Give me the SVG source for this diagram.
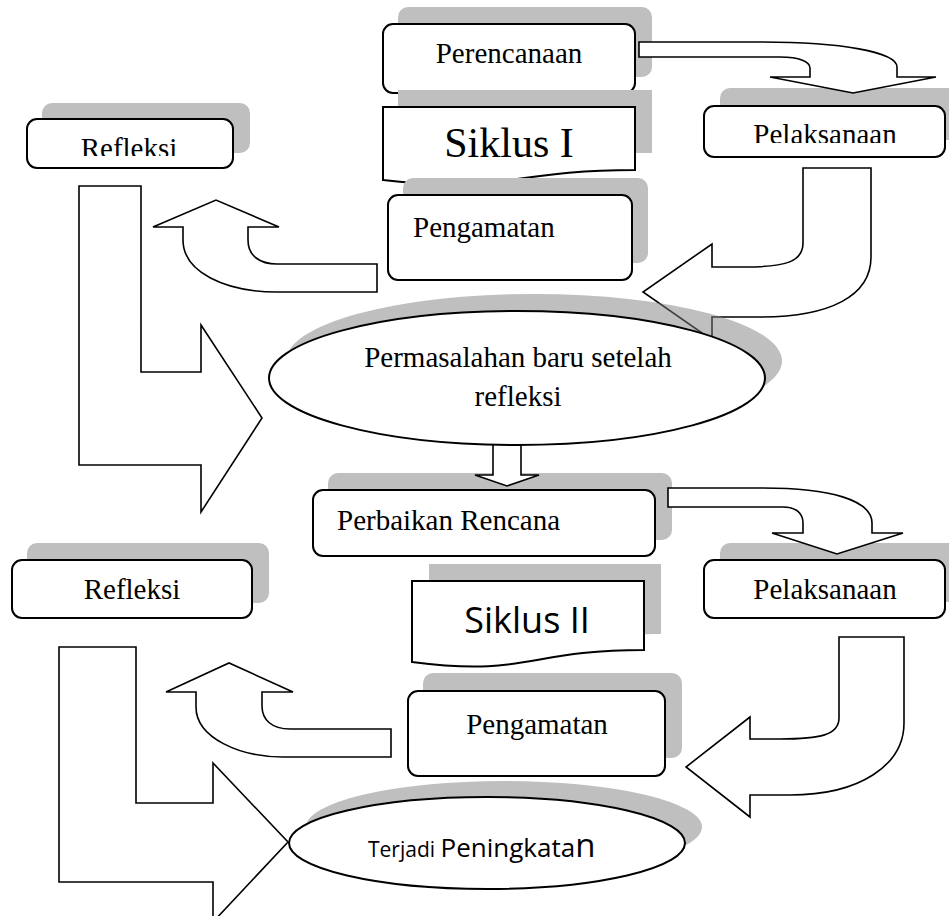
<svg xmlns="http://www.w3.org/2000/svg" width="949" height="916" viewBox="0 0 949 916">
<style>
.box{fill:#fff;stroke:#000;stroke-width:2}
.sh{fill:#bfbfbf}
.esh{fill:#808080;fill-opacity:0.5}
.arr{fill:#fff;stroke:#000;stroke-width:1.6;stroke-linejoin:miter}
.t{font-family:"Liberation Serif","Times New Roman",serif;font-size:29px;fill:#000}
.s{font-family:"Open Sans","Liberation Sans",sans-serif;fill:#000}
</style>
<defs>
<clipPath id="clipRef1"><rect x="27" y="119" width="206" height="37"/></clipPath>
<clipPath id="clipPel1"><rect x="704" y="106" width="241" height="37"/></clipPath>
</defs>
<rect width="949" height="916" fill="#fff"/>

<g id="perencanaan">
<rect class="sh" x="398" y="7" width="254" height="70" rx="10"/>
<rect class="box" x="383" y="24" width="252" height="69" rx="10"/>
<text class="t" x="509" y="63" text-anchor="middle">Perencanaan</text>
</g>

<g id="siklus1">
<path class="sh" d="M398,90 H652 V153 C526,153 526,177 398,163 Z"/>
<path class="box" d="M383,107 H635 V170 C509,170 509,194 383,180 Z"/>
<text class="t" x="509" y="157" text-anchor="middle" style="font-size:42px">Siklus I</text>
</g>

<g id="pengamatan1">
<rect class="sh" x="403" y="178" width="245" height="85" rx="10"/>
<rect class="box" x="388" y="195" width="244" height="85" rx="10"/>
<text class="t" x="413" y="237">Pengamatan</text>
</g>

<g id="pelaksanaan1">
<rect class="sh" x="720" y="88" width="245" height="52" rx="10"/>
<rect class="box" x="704" y="106" width="241" height="51" rx="10"/>
<text class="t" x="825" y="144" text-anchor="middle" clip-path="url(#clipPel1)">Pelaksanaan</text>
</g>

<g id="refleksi1">
<rect class="sh" x="42" y="103" width="208" height="50" rx="10"/>
<rect class="box" x="27" y="119" width="206" height="49" rx="10"/>
<text class="t" x="129" y="158" text-anchor="middle" clip-path="url(#clipRef1)">Refleksi</text>
</g>

<g id="perbaikan">
<rect class="sh" x="328" y="473" width="344" height="67" rx="10"/>
<rect class="box" x="313" y="490" width="342" height="66" rx="10"/>
<text class="t" x="337" y="530">Perbaikan Rencana</text>
</g>

<g id="siklus2">
<path class="sh" d="M429,564 H661 V634 C545,634 545,660 429,645 Z"/>
<path class="box" d="M412,581 H644 V650 C528,650 528,677 412,662 Z"/>
<text class="s" x="527" y="633" text-anchor="middle" style="font-size:36px">Siklus II</text>
</g>

<g id="pengamatan2">
<rect class="sh" x="423" y="673" width="259" height="85" rx="10"/>
<rect class="box" x="408" y="691" width="257" height="85" rx="10"/>
<text class="t" x="537" y="734" text-anchor="middle">Pengamatan</text>
</g>

<g id="pelaksanaan2">
<rect class="sh" x="720" y="543" width="245" height="59" rx="10"/>
<rect class="box" x="704" y="560" width="241" height="58" rx="10"/>
<text class="t" x="825" y="599" text-anchor="middle">Pelaksanaan</text>
</g>

<g id="refleksi2">
<rect class="sh" x="27" y="543" width="242" height="60" rx="10"/>
<rect class="box" x="12" y="560" width="240" height="58" rx="10"/>
<text class="t" x="132" y="599" text-anchor="middle">Refleksi</text>
</g>

<g id="connectors">
<path class="arr" d="M639,42 H763 C840,42 897,52 897,67 V77 H936 L853,93 L770,77 H810 V68 C810,62 800,57 780,57 H639 Z"/>
<path class="arr" d="M803,168 H871 V257 C871,296 830,317 760,317 H712 V340 L643,292 L712,244 V267 H745 C785,267 803,262 803,243 Z"/>
<path class="arr" d="M377,264 H277 C260,264 248,256 248,240 V227 H279 L216,200 L153,227 H183 V240 C183,272 225,292 277,292 H377 Z"/>
<path class="arr" d="M79,186 H141 V372 H201 V325 L262,418 L201,512 V465 H79 Z"/>
<path class="arr" d="M493,440 V475 H475 L507,486 L539,475 H521 V440 Z"/>
<path class="arr" d="M668,488 H763 C830,488 872,500 872,523 V533 H903 L837,554 L772,533 H803 V523 C803,514 797,507 783,507 H668 Z"/>
<path class="arr" d="M839,637 H904 V723 C904,765 860,795 790,795 H750 V817 L686,767 L750,717 V739 H780 C820,739 839,735 839,718 Z"/>
<path class="arr" d="M391,729 H290 C272,729 262,720 262,706 V692 H293 L229,663 L166,692 H196 V707 C196,738 240,757 283,757 H391 Z"/>
<path class="arr" d="M59,647 H136 V803 H213 V763 L288,842 L213,922 V882 H59 Z"/>
</g>

<g id="permasalahan">
<ellipse class="esh" cx="534" cy="361" rx="248" ry="67"/>
<ellipse class="box" cx="517" cy="378" rx="248" ry="67"/>
<text class="t" x="518" y="367" text-anchor="middle">Permasalahan baru setelah</text>
<text class="t" x="518" y="406" text-anchor="middle">refleksi</text>
</g>

<g id="peningkatan">
<ellipse class="esh" cx="504" cy="827" rx="198" ry="46"/>
<ellipse class="box" cx="487" cy="843" rx="198" ry="46"/>
<text class="s" x="368" y="857"><tspan style="font-size:21px">Terjadi </tspan><tspan style="font-size:26px">Peningkata</tspan><tspan style="font-size:33px">n</tspan></text>
</g>
</svg>
